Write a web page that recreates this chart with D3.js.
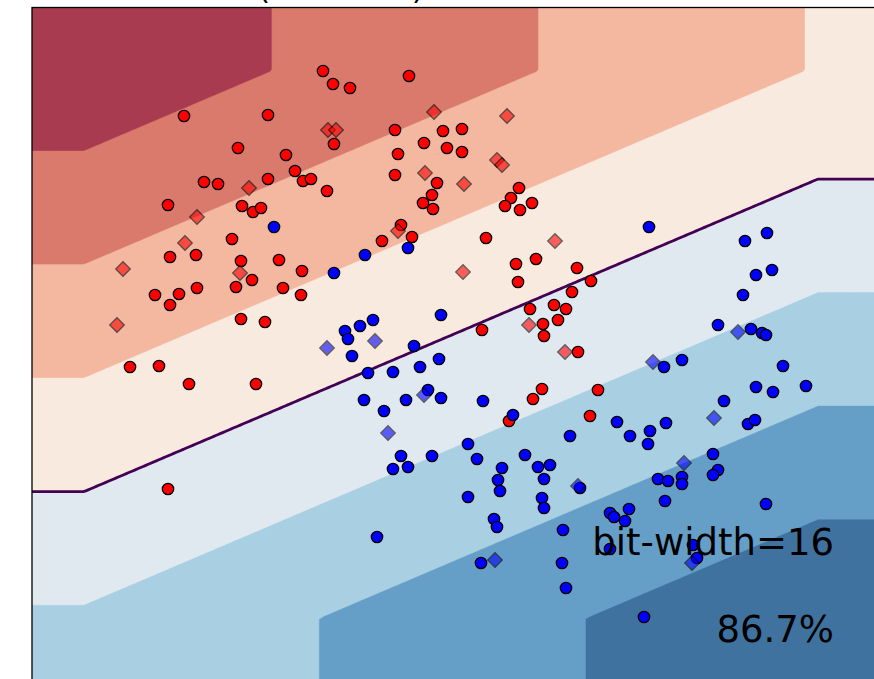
<!DOCTYPE html>
<html>
<head>
<meta charset="utf-8">
<script src="https://cdn.jsdelivr.net/npm/d3@7"></script>
<style>
  html, body { margin: 0; padding: 0; background: #fff; overflow: hidden; }
  text { font-family: "DejaVu Sans", sans-serif; }
</style>
</head>
<body>
<svg id="chart" width="874" height="679"></svg>
<script>
// ---- data ---------------------------------------------------------------
// training samples [x1, x2], class 0
const trainRed = [
  [-0.48,2.42],[0.36,2.43],[0.06,2.10],[0.54,2.03],[0.63,1.87],[0.71,1.77],[0.79,1.79],[-0.28,1.76],[-0.14,1.74],[0.36,1.79],
  [-0.64,1.53],[0.10,1.52],[0.21,1.46],[0.29,1.50],[0.00,1.19],[0.91,2.87],[1.01,2.74],[1.18,2.70],[1.77,2.82],[1.02,2.14],
  [1.63,2.28],[2.11,2.27],[2.30,2.29],[1.92,2.15],[2.15,2.10],[2.30,2.06],[1.66,2.04],[0.95,1.67],[1.63,1.83],[2.05,1.75],
  [2.00,1.63],[1.91,1.55],[2.01,1.49],[2.87,1.70],[2.79,1.60],[2.73,1.52],[2.88,1.48],[3.00,1.55],[1.69,1.33],[1.50,1.17],
  [1.80,1.21],[2.54,1.20],[-0.62,1.01],[-0.36,1.03],[0.09,0.97],[0.47,0.98],[0.20,0.78],[0.70,0.87],[-0.77,0.63],[-0.53,0.64],
  [-0.62,0.53],[-0.35,0.70],[0.04,0.71],[0.51,0.70],[0.69,0.63],[0.09,0.39],[0.33,0.36],[-1.02,-0.09],[-0.73,-0.08],[-0.43,-0.26],
  [0.24,-0.26],[-0.64,-1.31],[2.84,0.94],[3.04,0.99],[2.86,0.76],[3.45,0.90],[3.40,0.66],[3.59,0.77],[2.50,0.28],[2.98,0.49],
  [3.11,0.34],[3.12,0.22],[3.22,0.53],[3.34,0.49],[3.26,0.38],[3.46,0.06],[3.66,-0.32],[3.58,-0.58],[3.10,-0.31],[3.01,-0.41],
  [2.77,-0.63]
];
// training samples, class 1
const trainBlue = [
  [0.42,1.31],[1.76,1.10],[4.17,1.31],[5.13,1.17],[5.35,1.25],[1.33,1.03],[1.02,0.85],[2.09,0.43],[1.41,0.38],[1.28,0.32],
  [1.13,0.27],[1.16,0.19],[1.20,0.02],[1.82,0.12],[2.07,-0.01],[1.88,-0.09],[1.61,-0.14],[1.36,-0.15],[1.96,-0.32],[2.09,-0.40],
  [1.74,-0.42],[1.32,-0.42],[1.52,-0.53],[2.51,-0.43],[2.81,-0.57],[3.38,-0.78],[2.36,-0.86],[1.69,-0.98],[2.00,-0.98],[2.45,-1.01],
  [2.93,-0.97],[1.61,-1.11],[1.76,-1.09],[2.70,-1.10],[3.06,-1.09],[3.18,-1.07],[2.66,-1.22],[3.12,-1.21],[5.24,0.83],[5.40,0.88],
  [5.11,0.63],[4.86,0.33],[5.19,0.29],[5.30,0.25],[5.34,0.23],[4.32,-0.09],[4.50,-0.02],[5.51,-0.08],[5.24,-0.29],[5.41,-0.34],
  [5.74,-0.28],[4.92,-0.43],[3.85,-0.64],[4.34,-0.65],[3.98,-0.78],[4.18,-0.73],[4.16,-0.86],[5.16,-0.66],[5.23,-0.62],[4.81,-0.96],
  [4.86,-1.12],[4.81,-1.17],[4.26,-1.21],[4.36,-1.23],[4.50,-1.19],[4.50,-1.26],[3.48,-1.30],[4.33,-1.43],[5.34,-1.46],[3.78,-1.55],
  [3.97,-1.51],[3.82,-1.59],[3.93,-1.63],[2.68,-1.33],[2.36,-1.39],[3.10,-1.40],[3.12,-1.50],[2.62,-1.61],[2.65,-1.69],[1.45,-1.79],
  [3.31,-1.72],[2.49,-2.05],[3.30,-2.05],[3.34,-2.30],[3.78,-1.91],[4.61,-1.87],[4.65,-2.00],[4.12,-2.59]
];
// test samples, class 0
const testRed = [
  [0.17,1.70],[-0.35,1.41],[-0.47,1.15],[2.02,2.46],[2.75,2.42],[0.96,2.28],[1.04,2.28],[1.93,1.85],[2.65,1.98],[2.70,1.93],
  [2.32,1.74],[1.66,1.27],[3.23,1.17],[-1.09,0.89],[0.08,0.85],[-1.15,0.33],[2.31,0.86],[2.97,0.33],[3.33,0.06]
];
// test samples, class 1
const testBlue = [
  [0.95,0.10],[1.43,0.17],[1.92,-0.37],[1.56,-0.75],[5.06,0.26],[4.21,-0.04],[4.82,-0.60],[4.52,-1.05],[3.46,-1.28],[2.63,-2.02],
  [4.60,-2.05]
];

// quantized linear model: inputs saturate to the representable range
const weights = [0.3751, -0.8807];
const bias = -0.6219;
const inputMin = [-1.48, -2.605];
const inputMax = [5.86, 2.87];

// filled contour levels of the decision function and their colours
const contourLevels = [-3, -2, -1, 0, 1, 2, 3];
const bandColors = ["#a83b50", "#d97a6c", "#f4b8a1", "#f9eae0", "#e1e9f0", "#a9cfe3", "#659fc7", "#4072a0"];
const boundaryLevel = 0;

const titleText = "(bits = 16)";
const bitWidthLabel = "bit-width=16";
const scoreLabel = "86.7%";

// ---- layout -------------------------------------------------------------
const svg = d3.select("#chart");
const x = d3.scaleLinear().domain([-2, 7]).range([32, 932]);
const y = d3.scaleLinear().domain([-3.5, 3.5]).range([708, 8]);

svg.append("defs").append("clipPath").attr("id", "axes-clip")
  .append("rect")
  .attr("x", x(-2)).attr("y", y(3.5))
  .attr("width", x(7) - x(-2)).attr("height", y(-3.5) - y(3.5));

const plot = svg.append("g").attr("clip-path", "url(#axes-clip)");

// ---- decision surface ---------------------------------------------------
const clamp = (v, lo, hi) => Math.max(lo, Math.min(hi, v));
function decision(a, b) {
  return weights[0] * clamp(a, inputMin[0], inputMax[0]) +
         weights[1] * clamp(b, inputMin[1], inputMax[1]) + bias;
}

const step = 0.025;
const gx0 = -2.2, gx1 = 7.2, gyTop = 3.7, gyBot = -3.7;
const nx = Math.round((gx1 - gx0) / step);
const ny = Math.round((gyTop - gyBot) / step);
const grid = new Float64Array(nx * ny);
for (let j = 0; j < ny; j++) {
  const b = gyTop - (j + 0.5) * step;
  for (let i = 0; i < nx; i++) {
    grid[i + j * nx] = decision(gx0 + (i + 0.5) * step, b);
  }
}

const gridToScreen = d3.geoTransform({
  point(gx, gy) { this.stream.point(x(gx0 + gx * step), y(gyTop - gy * step)); }
});
const path = d3.geoPath(gridToScreen);
const contours = d3.contours().size([nx, ny]);

// lowest band underneath, higher bands stacked on top
plot.append("rect")
  .attr("x", x(-2)).attr("y", y(3.5))
  .attr("width", x(7) - x(-2)).attr("height", y(-3.5) - y(3.5))
  .attr("fill", bandColors[0]);

plot.append("g").selectAll("path")
  .data(contourLevels.map(t => contours.contour(grid, t)))
  .join("path")
  .attr("d", path)
  .attr("fill", (d, i) => bandColors[i + 1])
  .attr("stroke", (d, i) => bandColors[i + 1])
  .attr("stroke-width", 0.4);

// decision boundary
plot.append("path")
  .datum(contours.contour(grid, boundaryLevel))
  .attr("d", path)
  .attr("fill", "none")
  .attr("stroke", "#440154")
  .attr("stroke-width", 2.8)
  .attr("stroke-linejoin", "round");

// ---- samples ------------------------------------------------------------
const diamond = d3.symbol().type(d3.symbolSquare).size(105);

function drawCircles(data, color) {
  plot.append("g").selectAll("circle")
    .data(data).join("circle")
    .attr("cx", d => x(d[0])).attr("cy", d => y(d[1]))
    .attr("r", 5.7)
    .attr("fill", color)
    .attr("stroke", "#000").attr("stroke-width", 1.3);
}
function drawDiamonds(data, color) {
  plot.append("g").selectAll("path")
    .data(data).join("path")
    .attr("d", diamond)
    .attr("transform", d => `translate(${x(d[0])},${y(d[1])}) rotate(45)`)
    .attr("fill", color)
    .attr("stroke", "#000").attr("stroke-width", 1.3)
    .attr("opacity", 0.6);
}
drawCircles(trainRed, "#ff0000");
drawCircles(trainBlue, "#0000ff");
drawDiamonds(testRed, "#ff0000");
drawDiamonds(testBlue, "#0000ff");

// ---- annotations --------------------------------------------------------
plot.append("text")
  .attr("x", x(6.02)).attr("y", y(-1.97))
  .attr("text-anchor", "end")
  .attr("font-size", 37)
  .attr("fill", "#000")
  .text(bitWidthLabel);

plot.append("text")
  .attr("x", x(6.02)).attr("y", y(-2.84))
  .attr("text-anchor", "end")
  .attr("font-size", 37)
  .attr("fill", "#000")
  .text(scoreLabel);

// ---- frame and title ----------------------------------------------------
svg.append("rect")
  .attr("x", x(-2)).attr("y", y(3.5) - 0.5)
  .attr("width", x(7) - x(-2)).attr("height", y(-3.5) - y(3.5))
  .attr("fill", "none")
  .attr("stroke", "#000").attr("stroke-width", 1.3);

svg.append("text")
  .attr("x", 258).attr("y", -1.5)
  .attr("font-size", 31)
  .attr("fill", "#000")
  .text(titleText);
</script>
</body>
</html>
